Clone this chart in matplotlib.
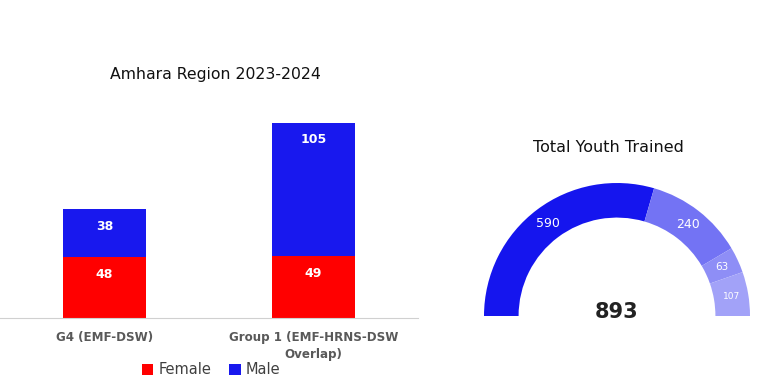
import matplotlib.pyplot as plt
import numpy as np

# ---------------- data ----------------
groups = ["G4 (EMF-DSW)", "Group 1 (EMF-HRNS-DSW\nOverlap)"]
female = [48, 49]
male = [38, 105]

gauge_labels = ["590", "240", "63", "107"]
gauge_values = [590, 240, 63, 107]
gauge_total = 893
gauge_colors = ["#1515EE", "#7373F4", "#8E8EF6", "#A2A2F8"]

plt.rcParams['font.family'] = ['DejaVu Sans']

fig = plt.figure(figsize=(7.68, 3.85), dpi=100)

# ---------------- stacked bars ----------------
ax = fig.add_axes([0.0, 67 / 385, 418 / 768, 218 / 385])
x = np.arange(len(groups))
b1 = ax.bar(x, female, width=0.4, color="#FF0000", label="Female")
b2 = ax.bar(x, male, width=0.4, bottom=female, color="#1818EE", label="Male")
ax.bar_label(b1, labels=[str(v) for v in female], padding=-17,
             color="white", fontsize=9, fontweight="bold")
ax.bar_label(b2, labels=[str(v) for v in male], padding=-17,
             color="white", fontsize=9, fontweight="bold")

ax.set_xlim(-0.5, 1.5)
ax.set_ylim(0, 172)
ax.set_xticks(x)
ax.set_xticklabels(groups, fontsize=8.6, fontweight="bold", color="#595959",
                   linespacing=1.45)
ax.tick_params(axis="x", length=0, pad=9)
ax.set_yticks([])
for s in ["top", "right", "left"]:
    ax.spines[s].set_visible(False)
ax.spines["bottom"].set_color("#D0D0D0")

fig.text(215 / 768, 1 - 74 / 385, "Amhara Region 2023-2024",
         ha="center", va="center", fontsize=11.3, color="#111111")

leg = fig.legend(handles=[b1, b2], labels=["Female", "Male"],
                 loc="center", bbox_to_anchor=(211 / 768, 1 - 370 / 385),
                 ncol=2, frameon=False, fontsize=10.5, handlelength=0.8,
                 handleheight=0.8, handletextpad=0.35, columnspacing=1.2)
for t in leg.get_texts():
    t.set_color("#404040")

# ---------------- gauge ----------------
gx = fig.add_axes([467 / 768, 1 - 346 / 385, 300 / 768, 180 / 385])
vals = gauge_values + [sum(gauge_values)]
cols = gauge_colors + ["none"]
wedges, texts = gx.pie(vals, colors=cols, startangle=180, counterclock=False,
                       radius=1.0, wedgeprops=dict(width=0.26, linewidth=0),
                       labels=gauge_labels + [""], labeldistance=0.87,
                       textprops=dict(color="white", ha="center", va="center"))
sizes = [9, 9, 7.5, 6.5]
for t, s in zip(texts, sizes):
    t.set_fontsize(s)
    t.set_ha("center")
    t.set_va("center")
gx.set_xlim(-150 / 133, 150 / 133)
gx.set_ylim(-30 / 133, 150 / 133)
gx.set_aspect("auto")
gx.axis("off")
gx.text(0, 0.03, str(gauge_total), ha="center", va="center",
        fontsize=15, fontweight="bold", color="#222222")

fig.text(608 / 768, 1 - 148 / 385, "Total Youth Trained",
         ha="center", va="center", fontsize=11.5, color="#111111")

fig.savefig("out.png", dpi=100)
